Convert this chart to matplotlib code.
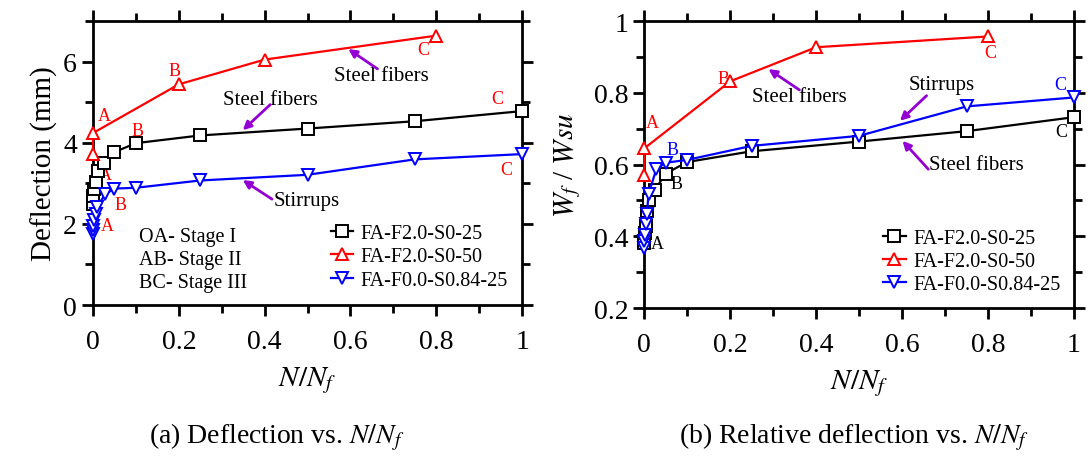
import numpy as np
import matplotlib
matplotlib.use('Agg')
import matplotlib.pyplot as plt
from matplotlib.ticker import MultipleLocator

plt.rcParams['font.family'] = ['Liberation Serif', 'DejaVu Serif']
plt.rcParams['mathtext.fontset'] = 'stix'

# data
x_f25 = [0, 0.001, 0.003, 0.006, 0.012, 0.025, 0.05, 0.1, 0.25, 0.5, 0.75, 1.0]
defl_f25 = [2.48, 2.69, 2.85, 3.02, 3.30, 3.51, 3.77, 3.99, 4.18, 4.35, 4.53, 4.78]
rel_f25 = [0.38, 0.41, 0.43, 0.47, 0.50, 0.53, 0.575, 0.607, 0.637, 0.664, 0.693, 0.732]

x_f50 = [0, 0.0, 0.2, 0.4, 0.8]
defl_f50 = [3.72, 4.24, 5.44, 6.05, 6.64]
rel_f50 = [0.572, 0.645, 0.832, 0.927, 0.957]

x_s84 = [0, 0.0, 0.001, 0.003, 0.006, 0.01, 0.028, 0.05, 0.1, 0.25, 0.5, 0.75, 1.0]
defl_s84 = [1.75, 1.85, 1.95, 2.1, 2.25, 2.42, 2.73, 2.87, 2.89, 3.07, 3.21, 3.59, 3.72]
rel_s84 = [0.366, 0.388, 0.403, 0.434, 0.462, 0.518, 0.587, 0.605, 0.613, 0.652, 0.680, 0.762, 0.787]

labels = ['FA-F2.0-S0-25', 'FA-F2.0-S0-50', 'FA-F0.0-S0.84-25']
stages = ['OA- Stage I', 'AB- Stage II', 'BC- Stage III']

purple = '#9400D3'

fig = plt.figure(figsize=(10.92, 4.64), dpi=100)
ax1 = fig.add_axes([0.0852, 0.3405, 0.3929, 0.612])
ax2 = fig.add_axes([0.590, 0.334, 0.3935, 0.6185])


def style(ax, ylim, major, minor):
    ax.set_xlim(0, 1)
    ax.set_ylim(*ylim)
    ax.xaxis.set_major_locator(MultipleLocator(0.2))
    ax.xaxis.set_minor_locator(MultipleLocator(0.1))
    ax.yaxis.set_major_locator(MultipleLocator(major))
    ax.yaxis.set_minor_locator(MultipleLocator(minor))
    ax.xaxis.set_major_formatter(lambda v, p: '%g' % round(v, 2))
    ax.yaxis.set_major_formatter(lambda v, p: '%g' % round(v, 2))
    for s in ax.spines.values():
        s.set_linewidth(2)
    ax.tick_params(which='both', direction='out', top=True, right=True,
                   width=2, labelsize=20)
    ax.tick_params(which='major', length=8)
    ax.tick_params(which='minor', length=6)
    ax.tick_params(axis='x', pad=9)
    ax.set_xlabel('$N/N_f$', fontsize=21, labelpad=8)


def plot_series(ax, ys):
    kw = dict(lw=1.6, markersize=9, markerfacecolor='white', markeredgewidth=1.4,
              clip_on=False, zorder=5)
    ax.plot(x_f25, ys[0], '-s', color='black', label=labels[0], **kw)
    ax.plot(x_f50, ys[1], '-^', color='red', label=labels[1], **kw)
    ax.plot(x_s84, ys[2], '-v', color='blue', label=labels[2], **kw)


arr = dict(arrowstyle='-|>', color=purple, lw=2, mutation_scale=12, shrinkA=0, shrinkB=0)
letter_kw = dict(fontsize=13, ha='center', va='center')


def note(ax, text, tx, ty, x0, y0, x1, y1):
    ax.text(tx, ty, text, fontsize=15, ha='center', va='center')
    ax.annotate('', xy=(x1, y1), xytext=(x0, y0), arrowprops=arr)


# (a)
style(ax1, (0, 7), 2, 1)
plot_series(ax1, [defl_f25, defl_f50, defl_s84])
ax1.set_ylabel('Deflection (mm)', fontsize=21, labelpad=4)
ax1.legend(loc='upper left', bbox_to_anchor=(0.53, 0.32), frameon=False,
           fontsize=14.5, handlelength=1.1, handletextpad=0.4,
           labelspacing=0.2, borderpad=0)
for i, s in enumerate(stages):
    ax1.text(0.108, 1.69 - 0.565 * i, s, fontsize=14.5, va='center', ha='left')

for (x, y, t) in [(0.026, 4.68, 'A'), (0.19, 5.79, 'B'), (0.77, 6.3, 'C'),
                  (0.028, 3.22, 'A'), (0.104, 4.29, 'B'), (0.941, 5.09, 'C'),
                  (0.033, 1.97, 'A'), (0.063, 2.47, 'B'), (0.964, 3.35, 'C')]:
    ax1.text(x, y, t, color='red', **letter_kw)

note(ax1, 'Steel fibers', 0.673, 5.66, 0.663, 5.82, 0.595, 6.31)
note(ax1, 'Steel fibers', 0.413, 5.07, 0.413, 4.94, 0.349, 4.31)
note(ax1, 'Stirrups', 0.498, 2.57, 0.417, 2.61, 0.349, 3.08)

# (b)
style(ax2, (0.2, 1.0), 0.2, 0.1)
plot_series(ax2, [rel_f25, rel_f50, rel_s84])
ax2.set_ylabel('$W_f$ / $Wsu$', fontsize=21, labelpad=8)
ax2.legend(loc='upper left', bbox_to_anchor=(0.533, 0.31), frameon=False,
           fontsize=14.5, handlelength=1.1, handletextpad=0.4,
           labelspacing=0.2, borderpad=0)

for (x, y, t, c) in [(0.019, 0.716, 'A', 'red'), (0.184, 0.841, 'B', 'red'),
                     (0.805, 0.913, 'C', 'red'), (0.066, 0.643, 'B', 'blue'),
                     (0.967, 0.822, 'C', 'blue'), (0.075, 0.546, 'B', 'black'),
                     (0.03, 0.38, 'A', 'black'), (0.971, 0.691, 'C', 'black')]:
    ax2.text(x, y, t, color=c, **letter_kw)

note(ax2, 'Steel fibers', 0.362, 0.791, 0.361, 0.808, 0.289, 0.866)
note(ax2, 'Stirrups', 0.692, 0.822, 0.657, 0.792, 0.595, 0.722)
note(ax2, 'Steel fibers', 0.772, 0.601, 0.661, 0.587, 0.601, 0.666)

fig.text(277 / 1092, 1 - 437 / 464, '(a) Deflection vs. $N/N_f$', fontsize=20,
         ha='center', va='center')
fig.text(854 / 1092, 1 - 437 / 464, '(b) Relative deflection vs. $N/N_f$', fontsize=20,
         ha='center', va='center')

fig.savefig('out.png', dpi=100)
